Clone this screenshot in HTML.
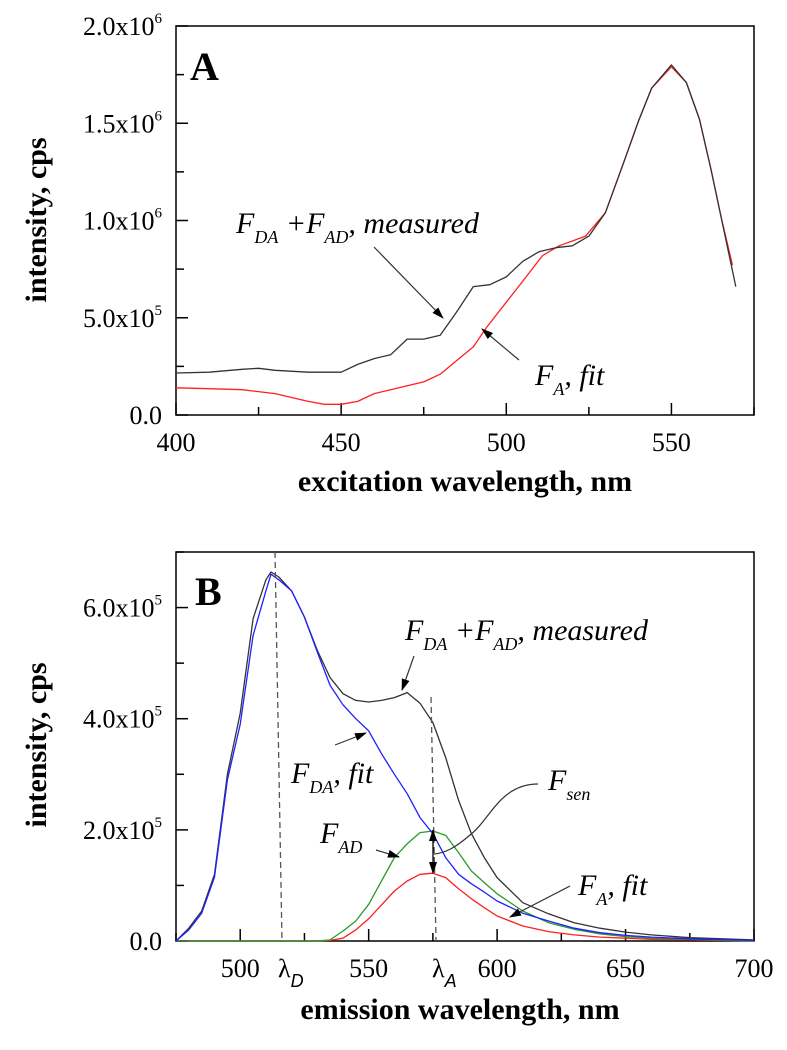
<!DOCTYPE html>
<html><head><meta charset="utf-8"><style>
html,body{margin:0;padding:0;background:#fff}
svg{display:block}
text{font-family:"Liberation Serif",serif}
</style></head><body>
<svg id="fig" width="787" height="1050" viewBox="0 0 787 1050" xmlns="http://www.w3.org/2000/svg">
<g id="pa"></g>
<g id="pb"></g>
</svg>
<script>
// Panel A data
const aX = [400,410,420,425,430,440,445,450,455,460,465,470,475,480,485,490,495,500,505,510,515,520,525,530,536,540,544,550,554.5,558.5,562,565,569.5];
const aMeasured = [0.216,0.22,0.235,0.24,0.23,0.22,0.22,0.22,0.26,0.29,0.31,0.39,0.39,0.41,0.53,0.66,0.67,0.71,0.79,0.84,0.86,0.87,0.92,1.04,1.32,1.51,1.68,1.80,1.71,1.52,1.26,1.02,0.66];
const aFitX = [400,410,420,430,440,445,450,455,460,465,470,475,480,485,490,494,500,506,511,516,524,530,536,540,544,550,554.5,558.5,562,565,568.5];
const aFit = [0.14,0.135,0.13,0.11,0.07,0.055,0.055,0.07,0.11,0.13,0.15,0.17,0.21,0.28,0.35,0.45,0.58,0.71,0.82,0.87,0.92,1.04,1.32,1.51,1.68,1.79,1.71,1.52,1.26,1.02,0.77];
const aYTicks = [0,0.5,1.0,1.5,2.0];
const aYLabels = ["0.0","5.0x10|5","1.0x10|6","1.5x10|6","2.0x10|6"];
const aXTicks = [400,450,500,550];

// Panel B data
const bX = [475,480,485,490,495,500,505,510,512,515,520,525,530,535,540,545,550,555,560,565,570,575,580,585,590,595,600,610,620,630,640,650,660,675,700];
const bMeasured = [0,0.23,0.54,1.2,3.0,4.1,5.8,6.5,6.64,6.55,6.3,5.83,5.23,4.74,4.45,4.33,4.3,4.33,4.38,4.47,4.28,3.93,3.3,2.53,1.93,1.5,1.14,0.69,0.49,0.33,0.23,0.16,0.11,0.06,0.02];
const bFitDA = [0,0.2,0.5,1.15,2.9,3.9,5.5,6.3,6.6,6.5,6.3,5.83,5.2,4.6,4.25,4.0,3.78,3.37,3.0,2.65,2.22,1.93,1.5,1.2,1.03,0.88,0.72,0.5,0.36,0.23,0.15,0.1,0.07,0.04,0.01];
const bAD = [0,0,0,0,0,0,0,0,0,0,0,0,0,0.02,0.18,0.36,0.66,1.08,1.5,1.75,1.95,1.98,1.9,1.59,1.26,1.05,0.85,0.54,0.33,0.21,0.13,0.08,0.05,0.03,0];
const bFitA = [0,0,0,0,0,0,0,0,0,0,0,0,0,0.01,0.05,0.2,0.4,0.65,0.9,1.08,1.2,1.22,1.14,0.94,0.76,0.6,0.45,0.27,0.17,0.11,0.07,0.05,0.03,0.02,0];
const bYTicks = [0,2,4,6];
const bYLabels = ["0.0","2.0x10|5","4.0x10|5","6.0x10|5"];
const bXTicks = [500,550,600,650,700];

const NS="http://www.w3.org/2000/svg";
function mk(parent,tag,attrs){const e=document.createElementNS(NS,tag);for(const k in attrs)e.setAttribute(k,attrs[k]);parent.appendChild(e);return e;}

const L=176,R=754;
const axA=v=>L+(v-400)/(575-400)*(R-L);
const ayA=v=>415-(v/2.0)*(415-26);
const axB=v=>L+(v-475)/(700-475)*(R-L);
const ayB=v=>941-(v/7)*(941-552);

function path(g,xs,ys,fx,fy,color,name){
  let d="";xs.forEach((x,i)=>{d+=(i?"L":"M")+fx(x).toFixed(1)+","+fy(ys[i]).toFixed(1);});
  const p=mk(g,"path",{d:d,fill:"none",stroke:color,"stroke-width":"1.3","stroke-linejoin":"round"});
  
  
}
function ylabel(g,y,lab){
  const parts=lab.split("|");
  const t=mk(g,"text",{x:162,y:y+9,"text-anchor":"end","font-size":"26","font-family":"Liberation Serif, serif"});
  
  
  t.appendChild(document.createTextNode(parts[0]));
  if(parts[1]){const s=mk(t,"tspan",{dy:"-12","font-size":"15"});s.textContent=parts[1];}
}
function frame(g,top,bottom){
  const r=mk(g,"rect",{x:L,y:top,width:R-L,height:bottom-top,fill:"none",stroke:"#000","stroke-width":"1.5"});
  
  
}
function tick(g,x1,y1,x2,y2){mk(g,"line",{x1:x1,y1:y1,x2:x2,y2:y2,stroke:"#000","stroke-width":"1.5"});}

const ga=document.getElementById("pa");
frame(ga,26,415);
for(let v=0;v<=2.0001;v+=0.25){const y=ayA(v);tick(ga,L,y,L+(Math.abs(v*2-Math.round(v*2))<1e-6?12:8),y);}
for(let v=400;v<=575;v+=25){const x=axA(v);tick(ga,x,415,x,415-(v%50===0?12:8));}
aYTicks.forEach((v,i)=>ylabel(ga,ayA(v),aYLabels[i]));
aXTicks.forEach(v=>{const t=mk(ga,"text",{x:axA(v),y:451,"text-anchor":"middle","font-size":"26","font-family":"Liberation Serif, serif"});t.textContent=v;
  
  });
path(ga,aFitX,aFit,axA,ayA,"#ff2020","fa-fit-line");
path(ga,aX,aMeasured,axA,ayA,"#333","measured-line");

const gb=document.getElementById("pb");
frame(gb,552,941);
for(let v=0;v<=7.0001;v+=1){const y=ayB(v);tick(gb,L,y,L+(v%2===0?12:8),y);}
for(let v=475;v<=700;v+=25){const x=axB(v);tick(gb,x,941,x,941-(v%50===0?12:8));}
bYTicks.forEach((v,i)=>ylabel(gb,ayB(v),bYLabels[i]));
bXTicks.forEach(v=>{const t=mk(gb,"text",{x:axB(v),y:977,"text-anchor":"middle","font-size":"26","font-family":"Liberation Serif, serif"});t.textContent=v;
  
  });
path(gb,bX,bFitA,axB,ayB,"#ff2020","fa-fit-line");
path(gb,bX,bAD,axB,ayB,"#2a9a2a","fad-line");
path(gb,bX,bMeasured,axB,ayB,"#333","measured-line");
path(gb,bX,bFitDA,axB,ayB,"#2020ff","fda-fit-line");
</script>
<svg width="787" height="1050" style="position:absolute;left:0;top:0" xmlns="http://www.w3.org/2000/svg">
<defs><marker id="ah2" markerWidth="12" markerHeight="8" refX="11" refY="4" orient="auto" markerUnits="userSpaceOnUse"><path d="M0,0 L12,4 L0,8 z" fill="#000"/></marker></defs>
<g style="font-family:'Liberation Serif',serif">
<text x="190" y="80" font-size="40" font-weight="bold">A</text>
<text x="236" y="233" font-size="30" font-style="italic">F<tspan font-size="18" dy="10">DA</tspan><tspan dy="-10"> +F</tspan><tspan font-size="18" dy="10">AD</tspan><tspan dy="-10">, measured</tspan></text>
<line x1="374" y1="247" x2="443" y2="318" stroke="#333" stroke-width="1.2" marker-end="url(#ah2)"/>
<text x="535" y="385" font-size="30" font-style="italic">F<tspan font-size="18" dy="10">A</tspan><tspan dy="-10">, fit</tspan></text>
<line x1="519" y1="360" x2="482" y2="329" stroke="#333" stroke-width="1.2" marker-end="url(#ah2)"/>
<text x="465" y="491" font-size="30" font-weight="bold" text-anchor="middle">excitation wavelength, nm</text>
<text transform="translate(46,220) rotate(-90)" font-size="30" font-weight="bold" text-anchor="middle">intensity, cps</text>

<text x="195" y="605" font-size="40" font-weight="bold">B</text>
<line x1="275" y1="552" x2="282" y2="941" stroke="#555" stroke-width="1.3" stroke-dasharray="6,4"/>
<line x1="431" y1="697" x2="436" y2="941" stroke="#555" stroke-width="1.3" stroke-dasharray="6,4"/>
<text x="405" y="640" font-size="30" font-style="italic">F<tspan font-size="18" dy="10">DA</tspan><tspan dy="-10"> +F</tspan><tspan font-size="18" dy="10">AD</tspan><tspan dy="-10">, measured</tspan></text>
<line x1="414" y1="656" x2="402" y2="690" stroke="#333" stroke-width="1.2" marker-end="url(#ah2)"/>
<text x="291" y="783" font-size="30" font-style="italic">F<tspan font-size="18" dy="10">DA</tspan><tspan dy="-10">, fit</tspan></text>
<line x1="335" y1="745" x2="366" y2="733" stroke="#333" stroke-width="1.2" marker-end="url(#ah2)"/>
<text x="320" y="843" font-size="30" font-style="italic">F<tspan font-size="18" dy="10">AD</tspan></text>
<line x1="376" y1="850" x2="399" y2="857" stroke="#333" stroke-width="1.2" marker-end="url(#ah2)"/>
<text x="548" y="790" font-size="30" font-style="italic">F<tspan font-size="18" dy="10">sen</tspan></text>
<path d="M538,784 C500,784 490,820 470,835 C455,848 445,853 434,854" fill="none" stroke="#333" stroke-width="1.2"/>
<line x1="433" y1="851" x2="433" y2="830" stroke="#000" stroke-width="1.3" marker-end="url(#ah2)"/>
<line x1="433" y1="851" x2="433" y2="873" stroke="#000" stroke-width="1.3" marker-end="url(#ah2)"/>
<text x="578" y="895" font-size="30" font-style="italic">F<tspan font-size="18" dy="10">A</tspan><tspan dy="-10">, fit</tspan></text>
<line x1="570" y1="886" x2="510" y2="917" stroke="#333" stroke-width="1.2" marker-end="url(#ah2)"/>
<text x="278" y="977" font-size="26">λ<tspan font-size="18" dy="10" font-style="italic" style="font-family:'Liberation Sans',sans-serif">D</tspan></text>
<text x="432" y="977" font-size="26">λ<tspan font-size="18" dy="10" font-style="italic" style="font-family:'Liberation Sans',sans-serif">A</tspan></text>
<text x="460" y="1019" font-size="30" font-weight="bold" text-anchor="middle">emission wavelength, nm</text>
<text transform="translate(46,745) rotate(-90)" font-size="30" font-weight="bold" text-anchor="middle">intensity, cps</text>
</g>
</svg>
</body></html>
